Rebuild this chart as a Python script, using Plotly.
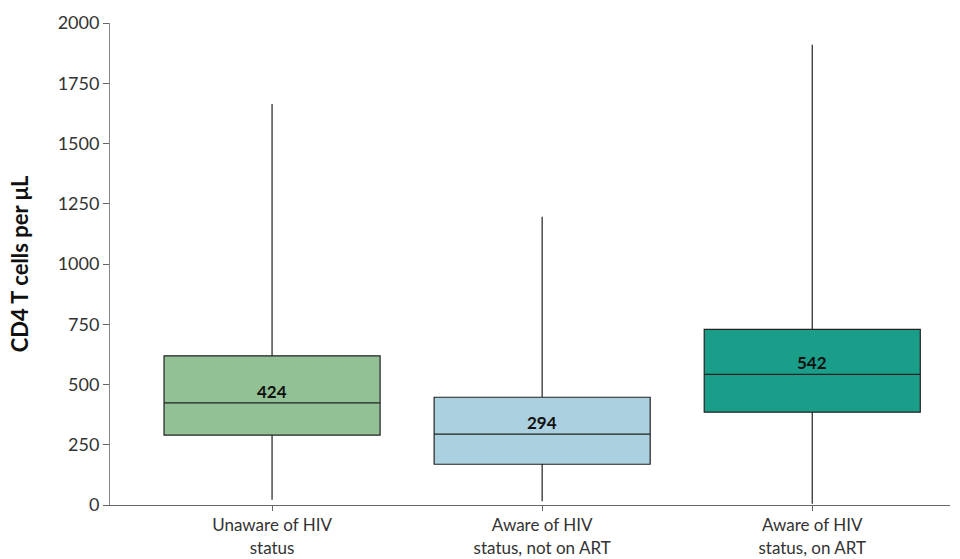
import plotly.graph_objects as go

categories = ["Unaware of HIV<br>status", "Aware of HIV<br>status, not on ART", "Aware of HIV<br>status, on ART"]
lower = [22, 16, 5]
q1 = [290, 169, 385]
median = [424, 294, 542]
q3 = [619, 447, 729]
upper = [1664, 1196, 1910]
colors = ["#91c194", "#abd0df", "#1b9e89"]

fig = go.Figure()

for i in range(len(categories)):
    fig.add_trace(go.Box(
        x=[i],
        q1=[q1[i]],
        median=[median[i]],
        q3=[q3[i]],
        lowerfence=[lower[i]],
        upperfence=[upper[i]],
        fillcolor=colors[i],
        line=dict(color="#222222", width=1.2),
        whiskerwidth=0,
        width=0.8,
        boxpoints=False,
        showlegend=False,
        hoverinfo="skip",
    ))
    # median label just above the median line
    fig.add_annotation(
        x=i, y=median[i], text=f"<b>{median[i]}</b>",
        showarrow=False, yanchor="bottom", yshift=-1,
        font=dict(size=17, color="#111111", family="Lato"),
    )

fig.update_layout(
    width=960, height=559,
    margin=dict(l=110, r=10, t=23, b=54),
    plot_bgcolor="white",
    paper_bgcolor="white",
    font=dict(family="Lato", color="#333333"),
    xaxis=dict(
        tickmode="array",
        tickvals=list(range(len(categories))),
        ticktext=categories,
        range=[-0.6, 2.51],
        automargin=False,
        showgrid=False,
        zeroline=False,
        showline=True,
        linecolor="#666666",
        linewidth=1,
        ticks="outside",
        ticklen=5,
        tickcolor="#666666",
        tickfont=dict(size=17, color="#333333"),
    ),
    yaxis=dict(
        range=[0, 2000],
        tickvals=[0, 250, 500, 750, 1000, 1250, 1500, 1750, 2000],
        automargin=False,
        showgrid=False,
        zeroline=False,
        showline=True,
        linecolor="#888888",
        linewidth=1,
        ticks="outside",
        ticklen=6,
        tickcolor="#666666",
        tickfont=dict(size=18, color="#333333"),
        title=dict(text="<b>CD4 T cells per μL</b>", font=dict(size=22, color="#111111"), standoff=22),
    ),
)

fig.write_html("out.html", config={"displayModeBar": False},
               post_script="document.body.style.margin='0';")
